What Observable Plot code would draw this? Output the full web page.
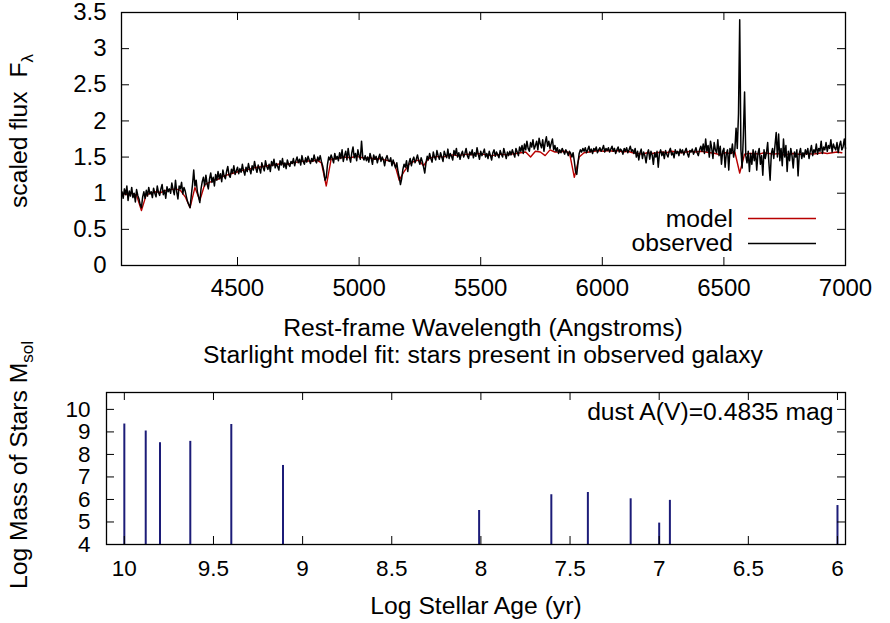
<!DOCTYPE html>
<html><head><meta charset="utf-8">
<script src="https://cdn.jsdelivr.net/npm/d3@7"></script>
<script src="https://cdn.jsdelivr.net/npm/@observablehq/plot@0.6"></script>
<style>
body{margin:0;background:#fff;}
#chart{position:relative;width:890px;height:623px;background:#fff;}
#chart svg{display:block;}
</style></head><body><div id="chart"></div>
<script>
// ---------- DATA ----------
// observed spectrum: sampled every 5 Å starting at 4025 Å
const observedStart = 4025, observedStep = 5;
const observedFlux = [
 1.02,0.93,1.06,0.98,1.10,0.90,1.03,0.96,1.08,0.94,1.00,0.88,1.05,0.97,0.92,0.84,0.80,0.95,1.02,0.93,
 1.04,0.96,1.08,0.99,1.02,0.94,1.07,1.00,0.95,1.10,1.01,0.97,1.06,1.12,0.98,1.04,0.93,1.09,1.02,1.06,
 1.00,1.14,1.05,0.98,1.18,1.02,0.92,1.10,1.06,1.15,0.99,1.08,1.03,0.95,0.88,0.84,0.80,0.97,1.12,1.32,
 1.10,1.18,1.02,0.95,0.87,1.06,1.16,1.22,1.10,1.25,1.13,1.06,1.20,1.28,1.15,1.22,1.10,1.26,1.18,1.30,
 1.20,1.27,1.16,1.32,1.24,1.20,1.30,1.37,1.25,1.22,1.33,1.28,1.38,1.26,1.31,1.36,1.27,1.34,1.29,1.40,
 1.31,1.25,1.36,1.30,1.41,1.33,1.27,1.38,1.32,1.44,1.35,1.29,1.39,1.34,1.28,1.42,1.36,1.31,1.45,1.37,
 1.33,1.40,1.30,1.44,1.38,1.47,1.35,1.41,1.37,1.32,1.45,1.39,1.48,1.36,1.42,1.34,1.46,1.40,1.37,1.44,
 1.41,1.48,1.38,1.45,1.50,1.42,1.47,1.39,1.52,1.44,1.40,1.49,1.43,1.51,1.46,1.41,1.48,1.44,1.53,1.45,
 1.42,1.50,1.45,1.52,1.44,1.38,1.30,1.18,1.22,1.40,1.50,1.46,1.53,1.48,1.42,1.55,1.47,1.51,1.45,1.56,
 1.48,1.60,1.44,1.52,1.58,1.46,1.62,1.50,1.43,1.56,1.64,1.49,1.55,1.45,1.60,1.52,1.47,1.72,1.50,1.46,
 1.52,1.45,1.50,1.43,1.55,1.48,1.40,1.53,1.47,1.51,1.42,1.49,1.54,1.44,1.50,1.46,1.38,1.48,1.52,1.45,
 1.44,1.49,1.38,1.46,1.40,1.35,1.42,1.30,1.22,1.12,1.20,1.33,1.40,1.36,1.45,1.30,1.42,1.48,1.38,1.46,
 1.50,1.42,1.47,1.53,1.45,1.40,1.49,1.44,1.36,1.28,1.42,1.51,1.46,1.55,1.48,1.43,1.57,1.50,1.46,1.59,
 1.52,1.47,1.56,1.50,1.44,1.58,1.53,1.49,1.61,1.48,1.55,1.51,1.46,1.59,1.53,1.62,1.50,1.56,1.47,1.54,
 1.58,1.50,1.55,1.62,1.52,1.48,1.57,1.53,1.60,1.49,1.56,1.51,1.63,1.54,1.47,1.58,1.52,1.56,1.61,1.50,
 1.55,1.48,1.58,1.52,1.46,1.56,1.60,1.51,1.57,1.53,1.49,1.59,1.54,1.50,1.62,1.55,1.48,1.57,1.52,1.58,
 1.53,1.60,1.55,1.50,1.62,1.57,1.52,1.64,1.58,1.66,1.55,1.68,1.60,1.72,1.62,1.58,1.70,1.64,1.74,1.61,
 1.66,1.72,1.60,1.76,1.68,1.63,1.74,1.58,1.70,1.78,1.65,1.72,1.62,1.69,1.75,1.60,1.66,1.58,1.63,1.55,
 1.60,1.56,1.62,1.58,1.54,1.60,1.57,1.52,1.58,1.55,1.50,1.56,1.44,1.30,1.26,1.42,1.55,1.60,1.57,1.62,
 1.58,1.63,1.56,1.60,1.65,1.57,1.61,1.55,1.62,1.59,1.64,1.56,1.60,1.63,1.58,1.61,1.66,1.57,1.62,1.59,
 1.63,1.57,1.61,1.65,1.58,1.62,1.55,1.60,1.64,1.57,1.61,1.59,1.54,1.62,1.58,1.63,1.56,1.60,1.65,1.58,
 1.60,1.55,1.62,1.50,1.58,1.46,1.56,1.61,1.48,1.57,1.52,1.42,1.55,1.60,1.47,1.58,1.53,1.40,1.56,1.50,
 1.58,1.36,1.55,1.60,1.52,1.57,1.48,1.59,1.54,1.50,1.58,1.62,1.53,1.56,1.49,1.60,1.55,1.58,1.52,1.61,
 1.56,1.60,1.53,1.58,1.62,1.55,1.50,1.59,1.57,1.61,1.54,1.58,1.63,1.56,1.52,1.60,1.65,1.58,1.68,1.55,
 1.75,1.58,1.66,1.50,1.72,1.62,1.48,1.70,1.60,1.56,1.74,1.52,1.65,1.40,1.58,1.62,1.36,1.55,1.60,1.32,
 1.62,1.55,1.68,1.50,1.60,1.90,1.62,2.10,3.40,1.60,1.35,1.80,2.40,1.52,1.42,1.58,1.30,1.55,1.40,1.60,
 1.45,1.58,1.32,1.55,1.62,1.40,1.52,1.25,1.60,1.48,1.56,1.70,1.42,1.18,1.55,1.62,1.48,1.66,1.84,1.50,
 1.82,1.45,1.62,1.38,1.75,1.50,1.66,1.30,1.58,1.45,1.62,1.52,1.35,1.57,1.50,1.60,1.24,1.55,1.62,1.48,
 1.56,1.50,1.60,1.54,1.62,1.48,1.58,1.66,1.52,1.60,1.56,1.68,1.54,1.62,1.58,1.72,1.55,1.64,1.60,1.70,
 1.58,1.66,1.62,1.74,1.57,1.68,1.63,1.60,1.70,1.56,1.66,1.72,1.60,1.64,1.75,1.62
];
// model spectrum: sampled every 20 Å starting at 4025 Å
const modelStart = 4025, modelStep = 20;
const modelFlux = [
 1.00,0.98,1.00,0.97,0.76,0.98,1.00,1.02,1.01,1.04,
 1.05,1.06,1.04,0.95,0.80,1.08,0.90,1.12,1.15,1.18,
 1.20,1.24,1.26,1.28,1.30,1.32,1.33,1.35,1.36,1.37,
 1.38,1.39,1.40,1.41,1.40,1.42,1.43,1.44,1.45,1.44,
 1.46,1.42,1.10,1.47,1.48,1.49,1.50,1.49,1.51,1.50,
 1.48,1.49,1.47,1.48,1.46,1.45,1.42,1.18,1.30,1.40,
 1.44,1.46,1.38,1.48,1.50,1.51,1.50,1.52,1.53,1.52,
 1.53,1.54,1.53,1.55,1.54,1.53,1.52,1.53,1.54,1.53,
 1.54,1.55,1.56,1.57,1.50,1.58,1.57,1.52,1.60,1.57,
 1.57,1.58,1.56,1.22,1.50,1.56,1.57,1.58,1.59,1.58,
 1.59,1.58,1.59,1.57,1.58,1.56,1.55,1.54,1.56,1.55,
 1.56,1.57,1.56,1.58,1.57,1.56,1.57,1.58,1.57,1.58,
 1.57,1.56,1.55,1.53,1.56,1.55,1.57,1.28,1.54,1.55,
 1.55,1.54,1.56,1.55,1.54,1.55,1.53,1.54,1.55,1.54,
 1.54,1.55,1.54,1.55,1.56,1.55,1.56,1.57,1.56
];
// stellar populations
const logAge  = [10.0, 9.88, 9.80, 9.63, 9.40, 9.11, 8.01, 7.605, 7.40, 7.16, 7.00, 6.94, 6.00];
const logMass = [9.35, 9.04, 8.52, 8.58, 9.33, 7.51, 5.51, 6.21, 6.31, 6.03, 4.95, 5.96, 5.73];
const dustLabel = "dust A(V)=0.4835 mag";
// tick labels
const wavelengthTicks = [4500, 5000, 5500, 6000, 6500, 7000];
const fluxTicks = [0, 0.5, 1, 1.5, 2, 2.5, 3, 3.5];
const ageTicks = [10, 9.5, 9, 8.5, 8, 7.5, 7, 6.5, 6];
const massTicks = [4, 5, 6, 7, 8, 9, 10];

// ---------- TABLES ----------
const observed = observedFlux.map((f, i) => ({lambda: observedStart + i * observedStep, flux: f}));
const model = modelFlux.map((f, i) => ({lambda: modelStart + i * modelStep, flux: f}));
const pops = logAge.map((a, i) => ({age: a, mass: logMass[i]}));

// ---------- STYLE ----------
const FONT = "'Liberation Sans', Arial, Helvetica, sans-serif";
const LABEL_SIZE = 24.7;
const RED = "#b80000";
const NAVY = "#1c1c78";
const W = 890;
const TICK = 8;
const fmt = d => String(d);
const topStyle = {fontFamily: FONT, fontSize: "24px", background: "white", color: "black", overflow: "visible"};
const botStyle = {fontFamily: FONT, fontSize: "22.5px", background: "white", color: "black", overflow: "visible"};

// ---------- TOP PANEL ----------
const topH = 340, topM = {top: 12, right: 45, bottom: 75, left: 121};
const waveDomain = [4023, 7000], fluxDomain = [0, 3.5];
const tIW = W - topM.left - topM.right, tIH = topH - topM.top - topM.bottom;
const tdx = TICK * (waveDomain[1] - waveDomain[0]) / tIW;
const tdy = TICK * (fluxDomain[1] - fluxDomain[0]) / tIH;

const topPlot = Plot.plot({
  width: W, height: topH,
  marginTop: topM.top, marginRight: topM.right, marginBottom: topM.bottom, marginLeft: topM.left,
  style: topStyle,
  x: {domain: waveDomain, ticks: wavelengthTicks, tickFormat: fmt, tickSize: 0, tickPadding: 13, label: null},
  y: {domain: fluxDomain, ticks: fluxTicks, tickFormat: fmt, tickSize: 0, tickPadding: 15, label: null},
  marks: [
    Plot.line(model, {x: "lambda", y: "flux", stroke: RED, strokeWidth: 1.4}),
    Plot.line(observed, {x: "lambda", y: "flux", stroke: "black", strokeWidth: 1.5}),
    Plot.ruleX(wavelengthTicks, {x: d => d, y1: fluxDomain[0], y2: fluxDomain[0] + tdy, stroke: "black"}),
    Plot.ruleX(wavelengthTicks, {x: d => d, y1: fluxDomain[1], y2: fluxDomain[1] - tdy, stroke: "black"}),
    Plot.ruleY(fluxTicks, {y: d => d, x1: waveDomain[0], x2: waveDomain[0] + tdx, stroke: "black"}),
    Plot.ruleY(fluxTicks, {y: d => d, x1: waveDomain[1], x2: waveDomain[1] - tdx, stroke: "black"}),
    Plot.frame({stroke: "black", strokeWidth: 1.3})
  ]
});

// ---------- BOTTOM PANEL ----------
const botH = 283, botM = {top: 52, right: 45, bottom: 79, left: 106};
const ageDomain = [10.1, 5.955], massDomain = [4, 10.75];
const bIW = W - botM.left - botM.right, bIH = botH - botM.top - botM.bottom;
const bdx = TICK * (ageDomain[0] - ageDomain[1]) / bIW;
const bdy = TICK * (massDomain[1] - massDomain[0]) / bIH;

const botPlot = Plot.plot({
  width: W, height: botH,
  marginTop: botM.top, marginRight: botM.right, marginBottom: botM.bottom, marginLeft: botM.left,
  style: botStyle,
  x: {domain: ageDomain, ticks: ageTicks, tickFormat: fmt, tickSize: 0, tickPadding: 16, label: null},
  y: {domain: massDomain, ticks: massTicks, tickFormat: fmt, tickSize: 0, tickPadding: 16, label: null},
  marks: [
    Plot.ruleX(pops, {x: "age", y1: massDomain[0], y2: "mass", stroke: NAVY, strokeWidth: 2}),
    Plot.ruleX(ageTicks, {x: d => d, y1: massDomain[0], y2: massDomain[0] + bdy, stroke: "black"}),
    Plot.ruleX(ageTicks, {x: d => d, y1: massDomain[1], y2: massDomain[1] - bdy, stroke: "black"}),
    Plot.ruleY(massTicks, {y: d => d, x1: ageDomain[0], x2: ageDomain[0] - bdx, stroke: "black"}),
    Plot.ruleY(massTicks, {y: d => d, x1: ageDomain[1], x2: ageDomain[1] + bdx, stroke: "black"}),
    Plot.text([dustLabel], {frameAnchor: "top-right", textAnchor: "end", lineAnchor: "top", dx: -12, dy: 10, fontSize: LABEL_SIZE, fill: "black"}),
    Plot.frame({stroke: "black", strokeWidth: 1.3})
  ]
});

// ---------- LABELS & LEGEND ----------
function addText(svg, x, y, str, anchor = "middle") {
  return svg.append("text").attr("x", x).attr("y", y).attr("text-anchor", anchor)
    .attr("font-family", FONT).attr("font-size", LABEL_SIZE).attr("fill", "black").text(str);
}
const st = d3.select(topPlot);
addText(st, 483, 335.5, "Rest-frame Wavelength (Angstroms)");
const yl1 = st.append("text").attr("transform", "translate(27,131) rotate(-90)").attr("text-anchor", "middle")
  .attr("font-family", FONT).attr("font-size", LABEL_SIZE).attr("fill", "black").style("white-space", "pre");
yl1.append("tspan").text("scaled flux  F");
yl1.append("tspan").attr("font-size", 17).attr("dy", 6).text("λ");
addText(st, 733, 227, "model", "end");
st.append("line").attr("x1", 748).attr("x2", 816).attr("y1", 218.5).attr("y2", 218.5).attr("stroke", RED).attr("stroke-width", 1.3);
addText(st, 733, 251, "observed", "end");
st.append("line").attr("x1", 748).attr("x2", 816).attr("y1", 243.5).attr("y2", 243.5).attr("stroke", "black").attr("stroke-width", 1.3);

const sb = d3.select(botPlot);
addText(sb, 483, 22.5, "Starlight model fit: stars present in observed galaxy");
addText(sb, 476, 274, "Log Stellar Age (yr)");
const yl2 = sb.append("text").attr("transform", "translate(27,125) rotate(-90)").attr("text-anchor", "middle")
  .attr("font-family", FONT).attr("font-size", LABEL_SIZE).attr("fill", "black");
yl2.append("tspan").text("Log Mass of Stars M");
yl2.append("tspan").attr("font-size", 17).attr("dy", 6).text("sol");

const chart = document.getElementById("chart");
chart.appendChild(topPlot);
chart.appendChild(botPlot);
</script></body></html>
